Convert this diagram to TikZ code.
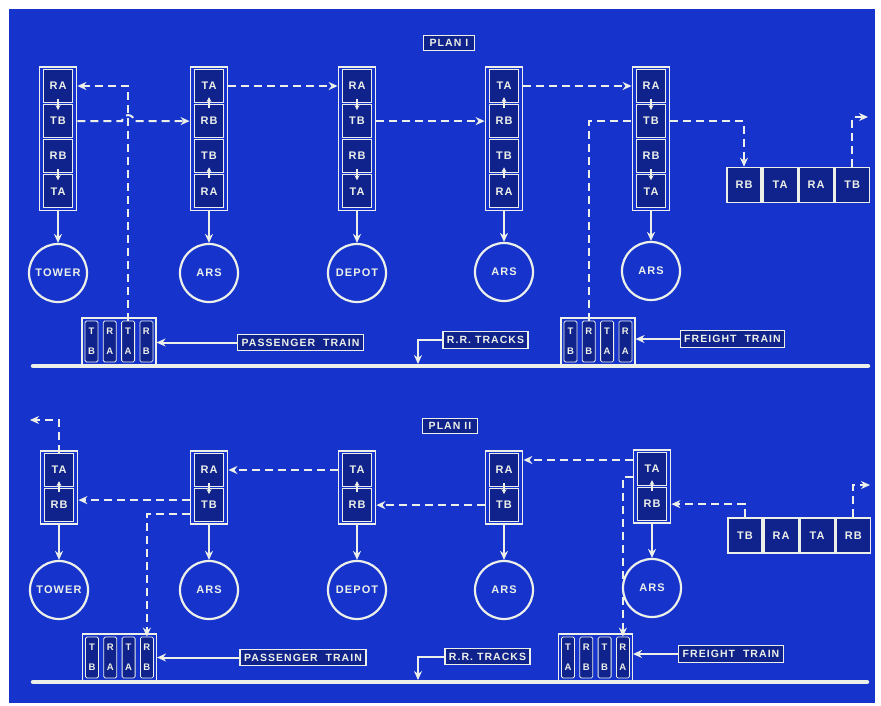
\documentclass[tikz,border=0pt]{standalone}
\usepackage{fontspec}
\newfontfamily\lettering[LetterSpace=10]{Liberation Sans}
\usetikzlibrary{positioning,fit,arrows.meta}
\definecolor{print}{RGB}{22,52,204}
\definecolor{deep}{RGB}{16,34,140}
\definecolor{ink}{RGB}{236,240,232}
\tikzset{
  cell/.style={draw=ink, fill=deep, line width=1.1pt, minimum width=29pt, minimum height=33pt, inner sep=0pt, text=ink, font=\lettering\bfseries\fontsize{11}{12}\selectfont},
  hcell/.style={cell, line width=1.6pt, minimum width=34.5pt, minimum height=35pt},
  frame/.style={draw=ink, line width=1.7pt, inner xsep=3.5pt, inner ysep=2pt},
  wagon/.style={draw=ink, fill=deep, line width=0.8pt, rounded corners=1.5pt, minimum width=13pt, minimum height=41pt, inner sep=0pt, text=ink, align=center, font=\lettering\bfseries\fontsize{9.5}{20}\selectfont},
  train/.style={draw=ink, line width=1.5pt, inner sep=2.5pt},
  station/.style={circle, draw=ink, line width=2.2pt, minimum size=58pt, inner sep=0pt, text=ink, font=\lettering\bfseries\fontsize{11}{12}\selectfont},
  tag/.style={draw=ink, fill=deep, line width=1.3pt, inner xsep=4pt, inner ysep=4.5pt, text=ink, font=\lettering\bfseries\fontsize{10.5}{11}\selectfont},
  plan/.style={tag, inner xsep=6pt, inner ysep=4pt},
  link/.style={draw=ink, line width=2pt, dash pattern=on 8pt off 5pt},
  feed/.style={draw=ink, line width=2pt},
  pointer/.style={-{Stealth[length=9pt,width=8pt]}},
  relay/.style={draw=ink, line width=1.5pt, -{Stealth[length=5pt,width=5pt]}},
  rail/.style={draw=ink, line width=4.5pt, line cap=round},
}

\begin{document}
\begin{tikzpicture}[x=1pt, y=-1pt]
			%%%%% SHEET %%%%%
			\useasboundingbox (0,0) rectangle (881,705);
			\fill[white] (0,0) rectangle (881,705);
			\fill[print] (9,9) rectangle (875,703);
			
			%%%%% PLAN I %%%%%
			\node[plan] (plan1) at (449,43) {PLAN I};
			
			% tower
			\node[cell] (s1ra) at (58,86) {RA};
			\node[cell, below=1pt of s1ra] (s1tb) {TB};
			\node[cell, below=1pt of s1tb] (s1rb) {RB};
			\node[cell, below=1pt of s1rb] (s1ta) {TA};
			\node[frame, fit=(s1ra)(s1ta)] (s1) {};
			\draw[relay] ([yshift=4pt]s1ra.south) -- ([yshift=-6pt]s1tb.north);
			\draw[relay] ([yshift=4pt]s1rb.south) -- ([yshift=-6pt]s1ta.north);
			
			% ars
			\node[cell] (s2ta) at (209,86) {TA};
			\node[cell, below=1pt of s2ta] (s2rb) {RB};
			\node[cell, below=1pt of s2rb] (s2tb) {TB};
			\node[cell, below=1pt of s2tb] (s2ra) {RA};
			\node[frame, fit=(s2ta)(s2ra)] (s2) {};
			\draw[relay] ([yshift=-4pt]s2rb.north) -- ([yshift=6pt]s2ta.south);
			\draw[relay] ([yshift=-4pt]s2ra.north) -- ([yshift=6pt]s2tb.south);
			
			% depot
			\node[cell] (s3ra) at (357,86) {RA};
			\node[cell, below=1pt of s3ra] (s3tb) {TB};
			\node[cell, below=1pt of s3tb] (s3rb) {RB};
			\node[cell, below=1pt of s3rb] (s3ta) {TA};
			\node[frame, fit=(s3ra)(s3ta)] (s3) {};
			\draw[relay] ([yshift=4pt]s3ra.south) -- ([yshift=-6pt]s3tb.north);
			\draw[relay] ([yshift=4pt]s3rb.south) -- ([yshift=-6pt]s3ta.north);
			
			% ars
			\node[cell] (s4ta) at (504,86) {TA};
			\node[cell, below=1pt of s4ta] (s4rb) {RB};
			\node[cell, below=1pt of s4rb] (s4tb) {TB};
			\node[cell, below=1pt of s4tb] (s4ra) {RA};
			\node[frame, fit=(s4ta)(s4ra)] (s4) {};
			\draw[relay] ([yshift=-4pt]s4rb.north) -- ([yshift=6pt]s4ta.south);
			\draw[relay] ([yshift=-4pt]s4ra.north) -- ([yshift=6pt]s4tb.south);
			
			% ars
			\node[cell] (s5ra) at (651,86) {RA};
			\node[cell, below=1pt of s5ra] (s5tb) {TB};
			\node[cell, below=1pt of s5tb] (s5rb) {RB};
			\node[cell, below=1pt of s5rb] (s5ta) {TA};
			\node[frame, fit=(s5ra)(s5ta)] (s5) {};
			\draw[relay] ([yshift=4pt]s5ra.south) -- ([yshift=-6pt]s5tb.north);
			\draw[relay] ([yshift=4pt]s5rb.south) -- ([yshift=-6pt]s5ta.north);
			
			% end set
			\node[hcell] (h1rb) at (744,185) {RB};
			\node[hcell, right=0pt of h1rb] (h1ta) {TA};
			\node[hcell, right=0pt of h1ta] (h1ra) {RA};
			\node[hcell, right=0pt of h1ra] (h1tb) {TB};
			\coordinate (out1) at (868,117);
			
			\node[station] (st1) at (58,273) {TOWER};
			\node[station] (st2) at (209,273) {ARS};
			\node[station] (st3) at (357,273) {DEPOT};
			\node[station] (st4) at (504,272) {ARS};
			\node[station] (st5) at (651,271) {ARS};
			\draw[feed, pointer] (s1.south) -- (st1.north);
			\draw[feed, pointer] (s2.south) -- (st2.north);
			\draw[feed, pointer] (s3.south) -- (st3.north);
			\draw[feed, pointer] (s4.south) -- (st4.north);
			\draw[feed, pointer] (s5.south) -- (st5.north);
			
			% trains
			\node[wagon] (p1a) at (91.5,341.5) {T\\B};
			\node[wagon, right=4.5pt of p1a] (p1b) {R\\A};
			\node[wagon, right=4.5pt of p1b] (p1c) {T\\A};
			\node[wagon, right=4.5pt of p1c] (p1d) {R\\B};
			\node[train, fit=(p1a)(p1d)] (pass1) {};
			\node[wagon] (f1a) at (570.5,341.5) {T\\B};
			\node[wagon, right=4.5pt of f1a] (f1b) {R\\B};
			\node[wagon, right=4.5pt of f1b] (f1c) {T\\A};
			\node[wagon, right=4.5pt of f1c] (f1d) {R\\A};
			\node[train, fit=(f1a)(f1d)] (freight1) {};
			
			\node[tag] (tagP1) at (300.5,342.5) {PASSENGER\ \ TRAIN};
			\node[tag] (tagR1) at (485.5,340) {R.R. TRACKS};
			\node[tag] (tagF1) at (732.5,339) {FREIGHT\ \ TRAIN};
			\coordinate (rr1) at (418,364);
			\draw[rail] (33,366) -- (868,366);
			\draw[feed, pointer] (tagP1.west) -- (tagP1.west -| pass1.east);
			\draw[feed, pointer] (tagF1.west) -- (tagF1.west -| freight1.east);
			\draw[feed, pointer] (tagR1.west) -| (rr1);
			
			% links
			\draw[link, pointer] (p1c.north) |- (s1.east |- s1ra);
			\draw[link, pointer] (s1.east |- s1tb) -- ([xshift=-6pt]s1tb -| p1c) arc[start angle=180, end angle=0, radius=6pt] -- (s2.west |- s2rb);
			\draw[link, pointer] (s2.east |- s2ta) -- (s3.west |- s3ra);
			\draw[link, pointer] (s3.east |- s3tb) -- (s4.west |- s4rb);
			\draw[link, pointer] (s4.east |- s4ta) -- (s5.west |- s5ra);
			\draw[link, pointer] (s5.east |- s5tb) -| (h1rb.north);
			\draw[link] (f1b.north) |- (s5.west |- s5tb);
			\draw[link, pointer] (h1tb.north) |- (out1);
			
			%%%%% PLAN II %%%%%
			\node[plan] (plan2) at (450,426) {PLAN II};
			
			\node[cell] (u1ta) at (59,470) {TA};
			\node[cell, below=1pt of u1ta] (u1rb) {RB};
			\node[frame, fit=(u1ta)(u1rb)] (u1) {};
			\draw[relay] ([yshift=-4pt]u1rb.north) -- ([yshift=6pt]u1ta.south);
			
			\node[cell] (u2ra) at (209,470) {RA};
			\node[cell, below=1pt of u2ra] (u2tb) {TB};
			\node[frame, fit=(u2ra)(u2tb)] (u2) {};
			\draw[relay] ([yshift=4pt]u2ra.south) -- ([yshift=-6pt]u2tb.north);
			
			\node[cell] (u3ta) at (357,470) {TA};
			\node[cell, below=1pt of u3ta] (u3rb) {RB};
			\node[frame, fit=(u3ta)(u3rb)] (u3) {};
			\draw[relay] ([yshift=-4pt]u3rb.north) -- ([yshift=6pt]u3ta.south);
			
			\node[cell] (u4ra) at (504,470) {RA};
			\node[cell, below=1pt of u4ra] (u4tb) {TB};
			\node[frame, fit=(u4ra)(u4tb)] (u4) {};
			\draw[relay] ([yshift=4pt]u4ra.south) -- ([yshift=-6pt]u4tb.north);
			
			\node[cell] (u5ta) at (652,469) {TA};
			\node[cell, below=1pt of u5ta] (u5rb) {RB};
			\node[frame, fit=(u5ta)(u5rb)] (u5) {};
			\draw[relay] ([yshift=-4pt]u5rb.north) -- ([yshift=6pt]u5ta.south);
			
			\node[hcell] (h2tb) at (745,535.5) {TB};
			\node[hcell, right=0pt of h2tb] (h2ra) {RA};
			\node[hcell, right=0pt of h2ra] (h2ta) {TA};
			\node[hcell, right=0pt of h2ta] (h2rb) {RB};
			\coordinate (out2) at (30,420);
			\coordinate (out3) at (870,485);
			
			\node[station] (su1) at (59,590) {TOWER};
			\node[station] (su2) at (209,590) {ARS};
			\node[station] (su3) at (357,590) {DEPOT};
			\node[station] (su4) at (504,590) {ARS};
			\node[station] (su5) at (652,588) {ARS};
			\draw[feed, pointer] (u1.south) -- (su1.north);
			\draw[feed, pointer] (u2.south) -- (su2.north);
			\draw[feed, pointer] (u3.south) -- (su3.north);
			\draw[feed, pointer] (u4.south) -- (su4.north);
			\draw[feed, pointer] (u5.south) -- (su5.north);
			
			\node[wagon] (p2a) at (92,657.5) {T\\B};
			\node[wagon, right=4.5pt of p2a] (p2b) {R\\A};
			\node[wagon, right=4.5pt of p2b] (p2c) {T\\A};
			\node[wagon, right=4.5pt of p2c] (p2d) {R\\B};
			\node[train, fit=(p2a)(p2d)] (pass2) {};
			\node[wagon] (f2a) at (568,657.5) {T\\A};
			\node[wagon, right=4.5pt of f2a] (f2b) {R\\B};
			\node[wagon, right=4.5pt of f2b] (f2c) {T\\B};
			\node[wagon, right=4.5pt of f2c] (f2d) {R\\A};
			\node[train, fit=(f2a)(f2d)] (freight2) {};
			
			\node[tag] (tagP2) at (303,657.5) {PASSENGER\ \ TRAIN};
			\node[tag] (tagR2) at (487.5,656.5) {R.R. TRACKS};
			\node[tag] (tagF2) at (731,654) {FREIGHT\ \ TRAIN};
			\coordinate (rr2) at (418,680);
			\draw[rail] (33,682) -- (867,682);
			\draw[feed, pointer] (tagP2.west) -- (tagP2.west -| pass2.east);
			\draw[feed, pointer] (tagF2.west) -- (tagF2.west -| freight2.east);
			\draw[feed, pointer] (tagR2.west) -| (rr2);
			
			\draw[link, pointer] (u1ta.north) |- (out2);
			\draw[link, pointer] ([yshift=5pt]u2.west |- u2tb) -- ([yshift=5pt]u1.east |- u1rb);
			\draw[link, pointer] ([yshift=-9pt]u2.west |- u2tb) -| (p2d.north);
			\draw[link, pointer] (u3.west |- u3ta) -- (u2.east |- u2ra);
			\draw[link, pointer] (u4.west |- u4tb) -- (u3.east |- u3rb);
			\draw[link, pointer] ([yshift=9pt]u5.west |- u5ta) -- ([yshift=9pt]u4.east |- u5ta);
			\draw[link, pointer] ([yshift=-8pt]u5.west |- u5ta) -| (f2d.north);
			\draw[link, pointer] (h2tb.north) |- (u5.east |- u5rb);
			\draw[link, pointer] (h2rb.north) |- (out3);
		\end{tikzpicture}
\end{document}
